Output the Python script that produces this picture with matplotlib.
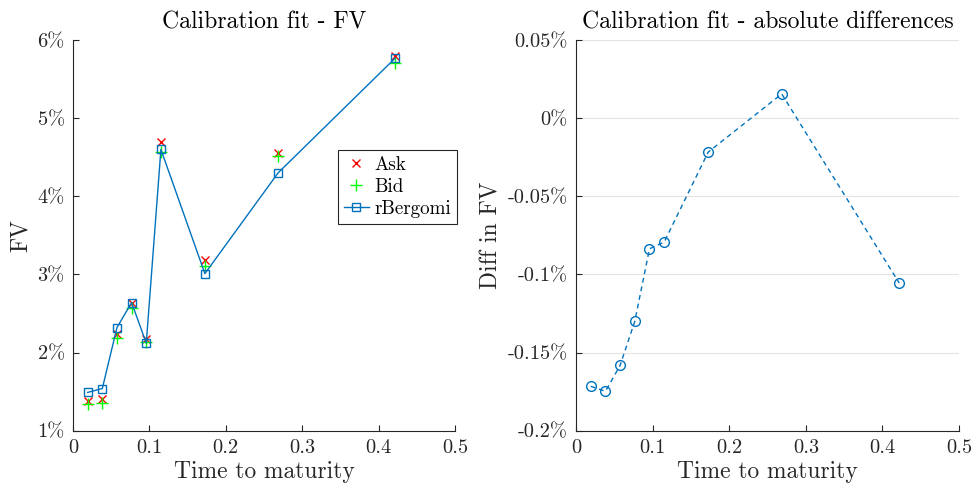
import numpy as np
import matplotlib
matplotlib.use("Agg")
import matplotlib.pyplot as plt

plt.rcParams['font.family'] = 'serif'
plt.rcParams['font.serif'] = ['cmr10', 'DejaVu Serif']
plt.rcParams['axes.unicode_minus'] = False

# maturities in days, converted to years
maturity_days = np.array([7, 14, 21, 28, 35, 42, 63, 98, 154])
T = maturity_days / 365.0

# forward variance in percent
fv_ask = [1.38, 1.40, 2.24, 2.64, 2.17, 4.70, 3.19, 4.55, 5.79]
fv_bid = [1.34, 1.36, 2.19, 2.57, 2.13, 4.57, 3.11, 4.51, 5.71]
fv_model = [1.49, 1.54, 2.32, 2.64, 2.12, 4.60, 3.01, 4.30, 5.77]

# model - market differences, percent
fv_diff = [-0.1716, -0.1748, -0.1582, -0.130, -0.0836, -0.0793, -0.0217, 0.0155, -0.1055]

blue = '#0072BD'
dark = '#262626'

fig = plt.figure(figsize=(9.76, 4.9), dpi=100)
ax1 = fig.add_axes([0.0748, 0.121, 0.3914, 0.7974])
ax2 = fig.add_axes([0.5902, 0.121, 0.3924, 0.7974])

for ax in (ax1, ax2):
    ax.spines['top'].set_visible(False)
    ax.spines['right'].set_visible(False)
    ax.spines['left'].set_color(dark)
    ax.spines['bottom'].set_color(dark)
    ax.tick_params(direction='in', length=4, colors=dark, labelsize=14.7, pad=6)
    ax.set_xlim(0, 0.5)
    ax.set_xticks([0, 0.1, 0.2, 0.3, 0.4, 0.5])
    ax.set_xticklabels(['0', '0.1', '0.2', '0.3', '0.4', '0.5'])
    ax.set_xlabel('Time to maturity', fontsize=16.9, color=dark, labelpad=3)

# left: fit
ax1.plot(T, fv_ask, 'x', color='red', markersize=6, markeredgewidth=1.0, label='Ask')
ax1.plot(T, fv_bid, '+', color='#00ff00', markersize=8, markeredgewidth=1.0, label='Bid')
ax1.plot(T, fv_model, '-s', color=blue, markersize=6, markerfacecolor='none',
         markeredgewidth=1.0, linewidth=1.0, label='rBergomi')
ax1.set_ylim(1, 6)
ax1.set_yticks([1, 2, 3, 4, 5, 6])
ax1.set_yticklabels(['1%', '2%', '3%', '4%', '5%', '6%'])
ax1.set_ylabel('FV', fontsize=16.9, color=dark, labelpad=4)
ax1.set_title('Calibration fit - FV', fontsize=17, color='black', pad=8)
leg = ax1.legend(loc='upper left', bbox_to_anchor=(0.694, 0.718), borderaxespad=0,
                 fontsize=13.7, fancybox=False, edgecolor=dark, framealpha=1,
                 handlelength=1.3, handletextpad=0.3, borderpad=0.3, labelspacing=0.22)
leg.get_frame().set_linewidth(0.8)

# right: differences
ax2.plot(T, fv_diff, 'o', color=blue, markersize=7, markerfacecolor='none',
         markeredgewidth=1.0, linestyle=(0, (3.5, 2.8)), linewidth=1.0)
ax2.set_ylim(-0.2, 0.05)
ax2.set_yticks([-0.2, -0.15, -0.1, -0.05, 0, 0.05])
ax2.set_yticklabels(['-0.2%', '-0.15%', '-0.1%', '-0.05%', '0%', '0.05%'])
ax2.yaxis.grid(True, color='#e3e3e3', linewidth=0.8)
ax2.set_axisbelow(True)
ax2.set_ylabel('Diff in FV', fontsize=16.9, color=dark, labelpad=4)
ax2.set_title('Calibration fit - absolute differences', fontsize=17, color='black', pad=8)

fig.savefig('out.png', dpi=100)
